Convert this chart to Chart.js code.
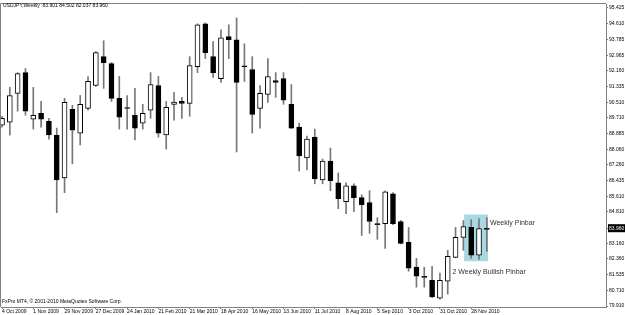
<!DOCTYPE html>
<html>
<head>
<meta charset="utf-8">
<script src="https://cdn.jsdelivr.net/npm/chart.js@4.4.1/dist/chart.umd.min.js"></script>
<style>
  html, body { margin: 0; padding: 0; background: #fff; }
  #wrap { width: 625px; height: 315px; }
</style>
</head>
<body>
<div id="wrap"><canvas id="chart"></canvas></div>
<script>
// weekly USDJPY candles (week 0 = 4 Oct 2009)
var opens  = [89.32, 89.48, 90.98, 92.06, 89.63, 89.94, 89.53, 88.81, 86.58, 90.15,
              88.91, 90.20, 91.39, 92.89, 92.53, 90.72, 90.22, 89.84, 89.43, 90.10,
              91.39, 88.81, 90.40, 90.56, 90.46, 92.37, 94.60, 92.89, 91.75, 93.93,
              93.77, 92.37, 92.22, 90.20, 90.93, 91.65, 91.75, 90.41, 89.22, 87.62,
              88.70, 86.48, 87.46, 86.32, 85.34, 86.17, 85.55, 85.29, 84.16, 84.20,
              85.75, 84.31, 83.22, 81.93, 81.42, 81.25, 80.32, 81.20, 82.44, 83.48,
              84.00, 82.55, 83.901];
var highs  = [89.79, 91.29, 92.06, 92.27, 91.29, 90.56, 89.68, 89.17, 90.72, 90.36,
              90.87, 91.86, 93.15, 93.72, 92.58, 91.86, 90.87, 91.24, 90.41, 92.06,
              91.86, 90.56, 91.03, 90.77, 92.89, 94.60, 94.65, 93.67, 94.29, 94.55,
              94.91, 93.56, 92.89, 91.39, 92.79, 92.06, 92.06, 91.44, 89.43, 88.75,
              89.12, 87.56, 88.13, 86.84, 86.32, 86.27, 85.70, 85.91, 84.51, 85.91,
              85.81, 84.36, 84.00, 82.39, 81.93, 81.98, 81.62, 82.81, 84.00, 84.36,
              84.41, 84.46, 84.502];
var lows   = [89.22, 88.81, 90.05, 89.84, 89.12, 89.22, 88.60, 84.77, 85.81, 87.31,
              88.29, 90.10, 91.34, 91.24, 90.56, 89.12, 89.12, 88.55, 89.12, 89.68,
              88.70, 88.08, 89.58, 89.68, 89.79, 92.06, 92.79, 91.81, 91.55, 92.79,
              87.93, 91.60, 88.91, 89.17, 90.51, 90.77, 90.41, 89.14, 86.94, 87.00,
              86.27, 86.27, 85.91, 84.98, 84.72, 84.82, 83.58, 83.69, 83.38, 82.91,
              84.15, 83.14, 81.72, 80.89, 80.89, 80.35, 80.27, 80.53, 82.42, 82.81,
              82.39, 82.34, 82.75];
var closes = [89.68, 90.87, 92.01, 90.05, 89.84, 89.63, 88.81, 86.48, 90.51, 89.06,
              90.41, 91.60, 93.10, 92.58, 90.72, 89.74, 90.19, 89.17, 89.94, 91.44,
              88.91, 90.25, 90.52, 90.46, 92.43, 94.55, 93.10, 92.06, 93.87, 93.77,
              91.55, 92.36, 89.89, 90.98, 91.86, 91.55, 90.62, 89.17, 87.72, 88.60,
              86.53, 87.46, 86.43, 85.50, 86.17, 85.55, 85.19, 84.31, 84.15, 85.86,
              84.20, 83.17, 81.88, 81.46, 81.40, 80.38, 81.25, 82.50, 83.48, 84.05,
              82.55, 83.94, 83.960];

// one label every 4 weeks
var dateLabels = ['4 Oct 2009', '1 Nov 2009', '29 Nov 2009', '27 Dec 2009', '24 Jan 2010',
                  '21 Feb 2010', '21 Mar 2010', '18 Apr 2010', '16 May 2010', '13 Jun 2010',
                  '11 Jul 2010', '8 Aug 2010', '5 Sep 2010', '3 Oct 2010', '31 Oct 2010',
                  '28 Nov 2010'];
var priceTicks = [95.425, 94.610, 93.785, 92.965, 92.160, 91.335, 90.510, 89.710, 88.885, 88.060,
                  87.260, 86.435, 85.610, 84.810, 83.960, 83.160, 82.360, 81.535, 80.710, 79.910];
var lastPrice = 83.960;

var titleText = 'USDJPY,Weekly  83.901 84.502 82.037 83.960';
var copyText = 'FxPro MT4, \u00a9 2001-2010 MetaQuotes Software Corp.';

// highlighted pinbar zone, in week / price units
var pinbarBox = { from: 59.1, to: 62.15, high: 84.67, low: 82.24 };

var bodies = [], wicks = [], bodyFill = [];
for (var i = 0; i < opens.length; i++) {
    bodies.push({ x: i, y: [opens[i], closes[i]] });
    wicks.push({ x: i, y: [lows[i], highs[i]] });
    var doji = Math.abs(closes[i] - opens[i]) < 0.07;
    bodyFill.push(doji || closes[i] < opens[i] ? '#000000' : '#ffffff');
}

var FONT = '"Liberation Sans", Arial, sans-serif';

var mt4Plugin = {
    id: 'mt4',
    beforeDatasetsDraw: function (chart) {
        var ctx = chart.ctx, x = chart.scales.x, y = chart.scales.y;
        ctx.save();
        ctx.fillStyle = '#a8d9e2';
        var l = x.getPixelForValue(pinbarBox.from), r = x.getPixelForValue(pinbarBox.to);
        var t = y.getPixelForValue(pinbarBox.high), b = y.getPixelForValue(pinbarBox.low);
        ctx.fillRect(l, t, r - l, b - t);
        ctx.restore();
    },
    afterDraw: function (chart) {
        var ctx = chart.ctx, a = chart.chartArea, x = chart.scales.x, y = chart.scales.y;
        ctx.save();
        ctx.strokeStyle = '#808080';
        ctx.lineWidth = 1;
        ctx.beginPath();
        ctx.moveTo(a.left - 0.5, a.bottom);
        ctx.lineTo(a.left - 0.5, a.top - 0.5);
        ctx.lineTo(a.right, a.top - 0.5);
        ctx.stroke();

        ctx.fillStyle = '#000';
        ctx.textBaseline = 'middle';
        ctx.font = '5px ' + FONT;
        ctx.fillText(titleText, 3, 6);
        ctx.fillText(copyText, 2, 302);

        ctx.fillStyle = '#333';
        ctx.font = '7px ' + FONT;
        ctx.fillText('Weekly Pinbar', x.getPixelForValue(62.4), y.getPixelForValue(84.25));
        ctx.fillText('2 Weekly Bullish Pinbar', x.getPixelForValue(57.6), y.getPixelForValue(81.7));
        ctx.restore();
    }
};

new Chart(document.getElementById('chart'), {
    type: 'bar',
    data: {
        datasets: [
            {
                label: 'Body',
                data: bodies,
                backgroundColor: bodyFill,
                borderColor: '#000',
                borderWidth: 1,
                borderSkipped: false,
                barThickness: 5,
                minBarLength: 1,
                grouped: false,
                order: 1
            },
            {
                label: 'Wick',
                data: wicks,
                backgroundColor: '#777',
                borderWidth: 0,
                barThickness: 1,
                grouped: false,
                order: 2
            }
        ]
    },
    options: {
        responsive: true,
        maintainAspectRatio: false,
        animation: false,
        devicePixelRatio: 1,
        layout: { padding: { left: 1, top: 2, right: 0, bottom: 0 } },
        plugins: { legend: { display: false }, tooltip: { enabled: false } },
        scales: {
            x: {
                type: 'linear',
                offset: false,
                min: -0.128,
                max: 77.24,
                afterFit: function (s) { s.height = 8; },
                afterBuildTicks: function (s) {
                    s.ticks = dateLabels.map(function (d, k) { return { value: k * 4 }; });
                },
                grid: { offset: false, drawOnChartArea: false, tickLength: 2, color: '#808080' },
                border: { color: '#808080' },
                ticks: {
                    align: 'start',
                    padding: 0,
                    autoSkip: false,
                    maxRotation: 0,
                    color: '#000',
                    font: { size: 5, family: FONT },
                    callback: function (v, idx) { return dateLabels[idx]; }
                }
            },
            y: {
                position: 'right',
                min: 79.858,
                max: 95.632,
                afterFit: function (s) { s.width = 19; },
                afterBuildTicks: function (s) {
                    s.ticks = priceTicks.map(function (v) { return { value: v }; });
                },
                grid: { drawOnChartArea: false, tickLength: 2, color: '#808080' },
                border: { color: '#808080' },
                ticks: {
                    padding: 1,
                    font: { size: 5, family: FONT },
                    color: function (c) { return c.tick && c.tick.value === lastPrice ? '#fff' : '#000'; },
                    showLabelBackdrop: function (c) { return !!(c.tick && c.tick.value === lastPrice); },
                    backdropColor: '#000',
                    backdropPadding: 1,
                    callback: function (v) { return v.toFixed(3); }
                }
            }
        }
    },
    plugins: [mt4Plugin]
});
</script>
</body>
</html>
